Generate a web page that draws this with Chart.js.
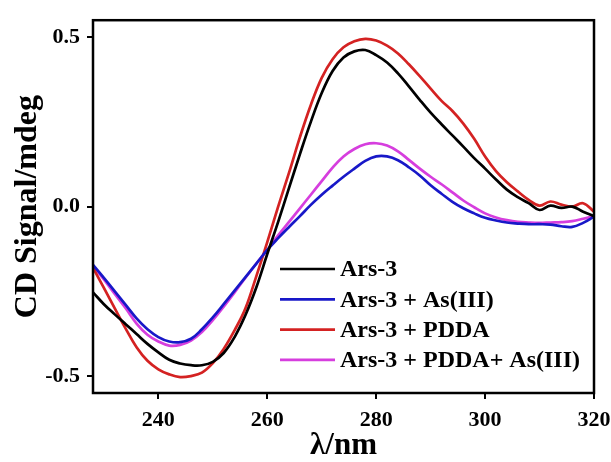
<!DOCTYPE html>
<html>
<head>
<meta charset="utf-8">
<script src="https://cdn.jsdelivr.net/npm/chart.js@4.4.0/dist/chart.umd.min.js"></script>
<style>
  body { margin: 0; background: #fff; }
  canvas { display: block; }
</style>
</head>
<body>
<canvas id="cdChart" width="611" height="462"></canvas>
<script>
// Wavelengths (nm)
const wavelengths = [228, 230, 232, 234, 236, 238, 240, 242, 244, 246, 248, 250, 252, 254, 256, 258, 260, 262, 264, 266, 268, 270, 272, 274, 276, 278, 280, 282, 284, 286, 288, 290, 292, 294, 296, 298, 300, 302, 304, 306, 308, 310, 312, 314, 316, 318, 320];

// CD signal (mdeg) of each sample
const ars3 = [-0.253, -0.288, -0.318, -0.347, -0.376, -0.405, -0.430, -0.452, -0.463, -0.468, -0.468, -0.458, -0.432, -0.385, -0.320, -0.238, -0.140, -0.045, 0.055, 0.155, 0.250, 0.335, 0.400, 0.440, 0.458, 0.462, 0.447, 0.425, 0.393, 0.355, 0.315, 0.277, 0.243, 0.210, 0.177, 0.143, 0.112, 0.080, 0.050, 0.028, 0.010, -0.010, 0.003, -0.004, 0.000, -0.015, -0.028];
const ars3As = [-0.172, -0.210, -0.250, -0.290, -0.330, -0.362, -0.385, -0.398, -0.400, -0.390, -0.362, -0.327, -0.288, -0.248, -0.208, -0.168, -0.128, -0.093, -0.060, -0.028, 0.005, 0.035, 0.062, 0.088, 0.112, 0.135, 0.148, 0.148, 0.137, 0.116, 0.092, 0.063, 0.038, 0.014, -0.005, -0.020, -0.033, -0.041, -0.047, -0.050, -0.052, -0.052, -0.053, -0.058, -0.060, -0.048, -0.030];
const ars3Pdda = [-0.180, -0.240, -0.300, -0.360, -0.415, -0.455, -0.480, -0.495, -0.503, -0.500, -0.490, -0.462, -0.420, -0.365, -0.300, -0.205, -0.105, 0.000, 0.100, 0.205, 0.300, 0.380, 0.435, 0.470, 0.488, 0.495, 0.490, 0.475, 0.452, 0.420, 0.385, 0.348, 0.312, 0.282, 0.245, 0.200, 0.148, 0.105, 0.072, 0.045, 0.020, 0.003, 0.015, 0.006, 0.000, 0.010, -0.015];
const ars3PddaAs = [-0.175, -0.215, -0.258, -0.300, -0.345, -0.378, -0.398, -0.410, -0.408, -0.395, -0.370, -0.335, -0.295, -0.253, -0.210, -0.168, -0.128, -0.085, -0.045, -0.005, 0.035, 0.075, 0.115, 0.148, 0.170, 0.184, 0.187, 0.180, 0.163, 0.138, 0.112, 0.088, 0.066, 0.042, 0.018, -0.002, -0.020, -0.032, -0.040, -0.045, -0.047, -0.048, -0.047, -0.046, -0.043, -0.036, -0.028];

const seriesNames = ['Ars-3', 'Ars-3 + As(III)', 'Ars-3 + PDDA', 'Ars-3 + PDDA+ As(III)'];
const xTicks = [240, 260, 280, 300, 320];
const yTicks = [-0.5, 0.0, 0.5];

const FONT = "'Liberation Serif', 'Times New Roman', serif";

function toPoints(values) {
    return wavelengths.map((w, i) => ({ x: w, y: values[i] }));
}

function makeSet(label, values, color) {
    return {
        label: label,
        data: toPoints(values),
        borderColor: color,
        backgroundColor: color,
        borderWidth: 2.7,
        pointRadius: 0,
        tension: 0.4,
        fill: false
    };
}

// frame round the plot area
const frame = {
    id: 'frame',
    afterDatasetsDraw(chart) {
        const { ctx, chartArea: a } = chart;
        ctx.save();
        ctx.strokeStyle = '#000';
        ctx.lineWidth = 2.5;
        ctx.strokeRect(a.left, a.top, a.right - a.left, a.bottom - a.top);
        ctx.restore();
    }
};

// legend inside the lower right of the plot
const insideLegend = {
    id: 'insideLegend',
    afterDraw(chart) {
        const ctx = chart.ctx;
        const x0 = 280, y0 = 269, step = 30.3;
        ctx.save();
        ctx.font = 'bold 24px ' + FONT;
        ctx.textBaseline = 'middle';
        ctx.textAlign = 'left';
        chart.data.datasets.forEach((ds, i) => {
            const y = y0 + i * step;
            ctx.strokeStyle = ds.borderColor;
            ctx.lineWidth = 2.7;
            ctx.beginPath();
            ctx.moveTo(x0, y);
            ctx.lineTo(x0 + 55, y);
            ctx.stroke();
            ctx.fillStyle = '#000';
            ctx.fillText(ds.label, x0 + 60, y + 1);
        });
        ctx.restore();
    }
};

const cdChart = new Chart(document.getElementById('cdChart'), {
    type: 'line',
    data: {
        datasets: [
            makeSet(seriesNames[0], ars3, '#000000'),
            makeSet(seriesNames[1], ars3As, '#1818c8'),
            makeSet(seriesNames[2], ars3Pdda, '#d42222'),
            makeSet(seriesNames[3], ars3PddaAs, '#d63ede')
        ]
    },
    options: {
        responsive: false,
        animation: false,
        layout: { padding: { top: 20, right: 17, left: 0, bottom: 0 } },
        plugins: {
            legend: { display: false },
            tooltip: { enabled: false }
        },
        scales: {
            x: {
                type: 'linear',
                min: 228,
                max: 320,
                afterBuildTicks: (s) => { s.ticks = xTicks.map(v => ({ value: v })); },
                // the last tick label may run up to the canvas edge
                afterFit: (s) => { s.height = 69; s.paddingRight = 0; s.paddingLeft = 0; },
                border: { display: false },
                grid: { drawOnChartArea: false, drawTicks: true, tickLength: 6, color: '#000', lineWidth: 2 },
                ticks: {
                    color: '#000',
                    padding: 8,
                    maxRotation: 0,
                    font: { family: FONT, size: 22, weight: 'bold' }
                },
                title: {
                    display: true,
                    text: 'λ/nm',
                    color: '#000',
                    padding: { top: 0, bottom: 1 },
                    font: { family: FONT, size: 31, weight: 'bold', lineHeight: 1 }
                }
            },
            y: {
                min: -0.55,
                max: 0.55,
                afterBuildTicks: (s) => { s.ticks = yTicks.map(v => ({ value: v })); },
                afterFit: (s) => { s.width = 93; },
                border: { display: false },
                grid: { drawOnChartArea: false, drawTicks: true, tickLength: 6, color: '#000', lineWidth: 2 },
                ticks: {
                    color: '#000',
                    padding: 7,
                    font: { family: FONT, size: 22, weight: 'bold' },
                    callback: (v) => v.toFixed(1)
                },
                title: {
                    display: true,
                    text: 'CD Signal/mdeg',
                    color: '#000',
                    padding: { top: 12, bottom: 0 },
                    font: { family: FONT, size: 32, weight: 'bold', lineHeight: 1 }
                }
            }
        }
    },
    plugins: [frame, insideLegend]
});
</script>
</body>
</html>
